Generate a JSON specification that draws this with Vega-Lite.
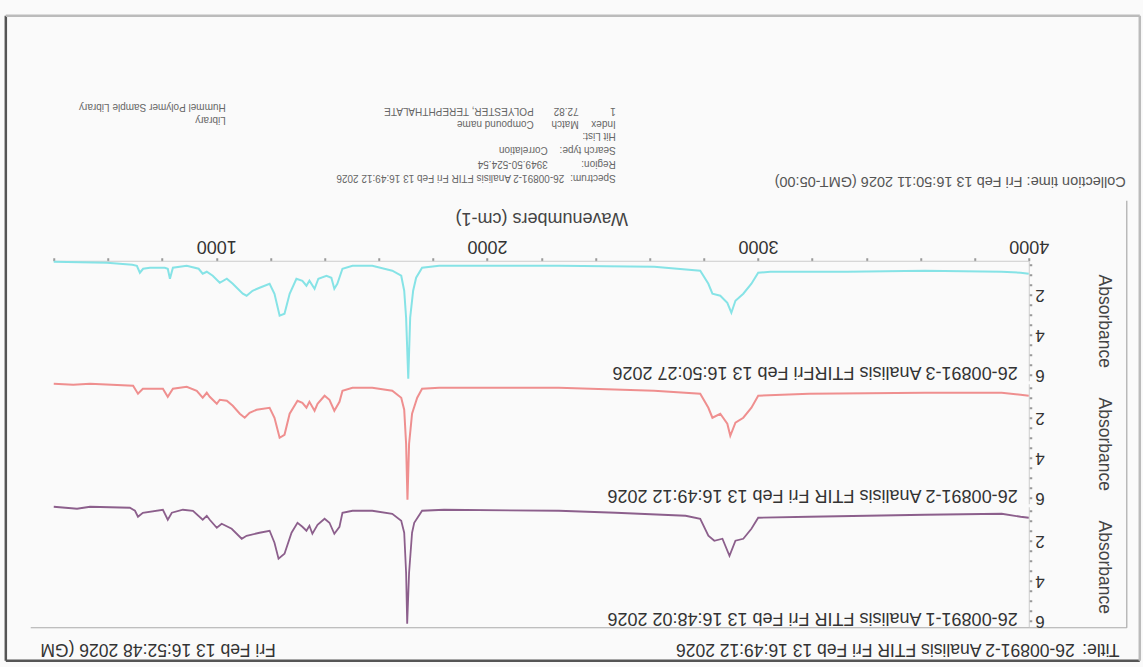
{
  "$schema": "https://vega.github.io/schema/vega-lite/v6.json",
  "background": "#fafafa",
  "autosize": {"type": "pad"},
  "padding": {"left": 3.75, "top": 13.75, "right": 2.75, "bottom": 5.75},
  "bounds": "flush",
  "spacing": 3,
  "config": {
    "view": {"stroke": null},
    "font": "Liberation Sans",
    "axis": {"grid": false, "labelFont": "Liberation Sans", "titleFont": "Liberation Sans"}
  },
  "datasets": {
    "cyan": [
      {"wn": 400, "a": 0.35}, {"wn": 597, "a": 0.4}, {"wn": 690, "a": 0.5}, {"wn": 707, "a": 0.55}, {"wn": 718, "a": 0.9},
      {"wn": 730, "a": 0.7}, {"wn": 755, "a": 0.65}, {"wn": 810, "a": 0.65}, {"wn": 821, "a": 0.7}, {"wn": 829, "a": 1.2},
      {"wn": 840, "a": 0.65}, {"wn": 891, "a": 0.55}, {"wn": 935, "a": 0.7}, {"wn": 950, "a": 0.95}, {"wn": 965, "a": 0.85},
      {"wn": 987, "a": 1.05}, {"wn": 1013, "a": 1.4}, {"wn": 1039, "a": 1.2}, {"wn": 1061, "a": 1.45}, {"wn": 1098, "a": 1.95},
      {"wn": 1112, "a": 2.05}, {"wn": 1134, "a": 1.8}, {"wn": 1160, "a": 1.65}, {"wn": 1197, "a": 1.45}, {"wn": 1215, "a": 1.95},
      {"wn": 1234, "a": 3.05}, {"wn": 1252, "a": 2.95}, {"wn": 1271, "a": 1.95}, {"wn": 1296, "a": 1.2}, {"wn": 1318, "a": 1.3},
      {"wn": 1333, "a": 1.55}, {"wn": 1344, "a": 1.3}, {"wn": 1363, "a": 1.7}, {"wn": 1377, "a": 1.2}, {"wn": 1407, "a": 1.05},
      {"wn": 1425, "a": 1.15}, {"wn": 1436, "a": 1.7}, {"wn": 1447, "a": 1.45}, {"wn": 1466, "a": 0.7}, {"wn": 1503, "a": 0.55},
      {"wn": 1576, "a": 0.55}, {"wn": 1650, "a": 0.8}, {"wn": 1683, "a": 1.05}, {"wn": 1694, "a": 1.8}, {"wn": 1701, "a": 3.15},
      {"wn": 1709, "a": 6.2}, {"wn": 1716, "a": 3.15}, {"wn": 1727, "a": 1.8}, {"wn": 1738, "a": 1.15}, {"wn": 1760, "a": 0.65},
      {"wn": 1823, "a": 0.55}, {"wn": 2265, "a": 0.55}, {"wn": 2617, "a": 0.6}, {"wn": 2787, "a": 0.8}, {"wn": 2817, "a": 1.45},
      {"wn": 2832, "a": 1.95}, {"wn": 2861, "a": 2.05}, {"wn": 2887, "a": 2.4}, {"wn": 2902, "a": 2.9}, {"wn": 2917, "a": 2.3},
      {"wn": 2946, "a": 1.95}, {"wn": 2976, "a": 1.45}, {"wn": 3001, "a": 0.9}, {"wn": 3046, "a": 0.85}, {"wn": 3329, "a": 0.85},
      {"wn": 3616, "a": 0.8}, {"wn": 3900, "a": 0.85}, {"wn": 3970, "a": 0.9}, {"wn": 4000, "a": 0.95}
    ],
    "red": [
      {"wn": 400, "a": 0.3}, {"wn": 472, "a": 0.35}, {"wn": 534, "a": 0.3}, {"wn": 693, "a": 0.4}, {"wn": 711, "a": 0.8},
      {"wn": 729, "a": 0.55}, {"wn": 803, "a": 0.55}, {"wn": 821, "a": 0.95}, {"wn": 840, "a": 0.55}, {"wn": 891, "a": 0.45},
      {"wn": 928, "a": 0.65}, {"wn": 950, "a": 1.0}, {"wn": 965, "a": 0.75}, {"wn": 976, "a": 0.95}, {"wn": 1002, "a": 1.3},
      {"wn": 1013, "a": 1.1}, {"wn": 1039, "a": 1.15}, {"wn": 1061, "a": 1.4}, {"wn": 1087, "a": 1.8}, {"wn": 1105, "a": 2.0},
      {"wn": 1123, "a": 1.75}, {"wn": 1149, "a": 1.6}, {"wn": 1197, "a": 1.5}, {"wn": 1215, "a": 2.0}, {"wn": 1234, "a": 3.0},
      {"wn": 1252, "a": 2.85}, {"wn": 1271, "a": 1.8}, {"wn": 1300, "a": 1.15}, {"wn": 1318, "a": 1.25}, {"wn": 1333, "a": 1.5},
      {"wn": 1344, "a": 1.2}, {"wn": 1363, "a": 1.65}, {"wn": 1374, "a": 1.3}, {"wn": 1400, "a": 0.9}, {"wn": 1418, "a": 1.1},
      {"wn": 1436, "a": 1.65}, {"wn": 1455, "a": 1.2}, {"wn": 1466, "a": 0.65}, {"wn": 1503, "a": 0.5}, {"wn": 1576, "a": 0.5},
      {"wn": 1650, "a": 0.65}, {"wn": 1683, "a": 1.0}, {"wn": 1694, "a": 1.6}, {"wn": 1701, "a": 3.3}, {"wn": 1706, "a": 6.1},
      {"wn": 1712, "a": 3.3}, {"wn": 1723, "a": 1.8}, {"wn": 1742, "a": 1.0}, {"wn": 1760, "a": 0.55}, {"wn": 1823, "a": 0.5},
      {"wn": 2265, "a": 0.5}, {"wn": 2617, "a": 0.65}, {"wn": 2787, "a": 0.8}, {"wn": 2817, "a": 1.5}, {"wn": 2832, "a": 2.0},
      {"wn": 2861, "a": 1.8}, {"wn": 2887, "a": 2.3}, {"wn": 2898, "a": 2.9}, {"wn": 2917, "a": 2.25}, {"wn": 2946, "a": 2.0},
      {"wn": 2976, "a": 1.5}, {"wn": 3001, "a": 0.9}, {"wn": 3189, "a": 0.8}, {"wn": 3616, "a": 0.75}, {"wn": 3900, "a": 0.75},
      {"wn": 3970, "a": 0.85}, {"wn": 4000, "a": 0.9}
    ],
    "purple": [
      {"wn": 400, "a": 0.3}, {"wn": 486, "a": 0.4}, {"wn": 534, "a": 0.3}, {"wn": 681, "a": 0.35}, {"wn": 700, "a": 0.5},
      {"wn": 711, "a": 0.8}, {"wn": 729, "a": 0.6}, {"wn": 803, "a": 0.45}, {"wn": 821, "a": 0.95}, {"wn": 836, "a": 0.6},
      {"wn": 877, "a": 0.45}, {"wn": 914, "a": 0.5}, {"wn": 950, "a": 0.95}, {"wn": 965, "a": 0.75}, {"wn": 976, "a": 0.95},
      {"wn": 1002, "a": 1.35}, {"wn": 1020, "a": 1.15}, {"wn": 1057, "a": 1.4}, {"wn": 1094, "a": 1.9}, {"wn": 1112, "a": 1.75},
      {"wn": 1160, "a": 1.6}, {"wn": 1197, "a": 1.5}, {"wn": 1215, "a": 2.1}, {"wn": 1230, "a": 2.9}, {"wn": 1252, "a": 2.65},
      {"wn": 1278, "a": 1.6}, {"wn": 1300, "a": 1.1}, {"wn": 1318, "a": 1.3}, {"wn": 1333, "a": 1.5}, {"wn": 1344, "a": 1.25},
      {"wn": 1355, "a": 1.65}, {"wn": 1374, "a": 1.2}, {"wn": 1400, "a": 0.9}, {"wn": 1418, "a": 1.1}, {"wn": 1436, "a": 1.65},
      {"wn": 1455, "a": 1.3}, {"wn": 1466, "a": 0.6}, {"wn": 1503, "a": 0.5}, {"wn": 1576, "a": 0.5}, {"wn": 1650, "a": 0.65},
      {"wn": 1683, "a": 1.0}, {"wn": 1694, "a": 1.6}, {"wn": 1701, "a": 3.6}, {"wn": 1705, "a": 6.15}, {"wn": 1712, "a": 3.6},
      {"wn": 1723, "a": 1.6}, {"wn": 1731, "a": 1.1}, {"wn": 1760, "a": 0.5}, {"wn": 1841, "a": 0.45}, {"wn": 2265, "a": 0.5},
      {"wn": 2475, "a": 0.6}, {"wn": 2733, "a": 0.75}, {"wn": 2787, "a": 0.9}, {"wn": 2817, "a": 1.75}, {"wn": 2839, "a": 2.0},
      {"wn": 2869, "a": 1.9}, {"wn": 2895, "a": 2.75}, {"wn": 2917, "a": 2.0}, {"wn": 2946, "a": 1.9}, {"wn": 2976, "a": 1.4},
      {"wn": 3001, "a": 0.85}, {"wn": 3189, "a": 0.8}, {"wn": 3616, "a": 0.7}, {"wn": 3900, "a": 0.65}, {"wn": 3970, "a": 0.8},
      {"wn": 4000, "a": 0.85}
    ],
    "infoText": [
      {"wn": 2475, "a": -3.85, "t": "Spectrum:"},
      {"wn": 2285, "a": -3.85, "t": "26-00891-2 Analisis FTIR Fri Feb 13 16:49:12 2026"},
      {"wn": 2475, "a": -4.55, "t": "Region:"},
      {"wn": 2224, "a": -4.55, "t": "3949.50-524.54"},
      {"wn": 2475, "a": -5.25, "t": "Search type:"},
      {"wn": 2224, "a": -5.25, "t": "Correlation"},
      {"wn": 2475, "a": -5.95, "t": "Hit List:"},
      {"wn": 2475, "a": -6.55, "t": "Index"},
      {"wn": 2338, "a": -6.55, "t": "Match"},
      {"wn": 2172, "a": -6.55, "t": "Compound name"},
      {"wn": 1035, "a": -6.75, "t": "Library"},
      {"wn": 2475, "a": -7.2, "t": "1"},
      {"wn": 2338, "a": -7.2, "t": "72.82"},
      {"wn": 2172, "a": -7.2, "t": "POLYESTER, TEREPHTHALATE"},
      {"wn": 1035, "a": -7.4, "t": "Hummel Polymer Sample Library"}
    ],
    "frameDark": [
      {"wn": 223, "wn2": 223, "a": -11.95, "a2": 20.3},
      {"wn": 223, "wn2": 4410, "a": 20.3, "a2": 20.3}
    ],
    "frameLight": [
      {"wn": 223, "wn2": 4410, "a": -11.95, "a2": -11.95},
      {"wn": 4410, "wn2": 4410, "a": -11.95, "a2": 20.3}
    ],
    "innerBox": [
      {"wn": 4362, "wn2": 4362, "a": -2.7, "a2": 18.65},
      {"wn": 315, "wn2": 4362, "a": 18.65, "a2": 18.65}
    ]
  },
  "vconcat": [
    {
      "width": 975,
      "height": 120,
      "encoding": {
        "x": {
          "field": "wn", "type": "quantitative",
          "scale": {"domain": [400, 4000], "nice": false, "zero": false},
          "axis": {
            "orient": "top", "title": "Wavenumbers (cm-1)",
            "values": [400, 600, 800, 1000, 1200, 1400, 1600, 1800, 2000, 2200, 2400, 2600, 2800, 3000, 3200, 3400, 3600, 3800, 4000],
            "labelExpr": "datum.value % 1000 === 0 ? '' + datum.value : ''",
            "labelAngle": 180, "labelFontSize": 18, "labelColor": "#333", "labelPadding": 3,
            "labelFlush": false, "labelOverlap": false,
            "tickSize": 3, "tickWidth": 2, "tickColor": "#999", "domainColor": "#ccc",
            "titleAngle": 180, "titleFontSize": 18, "titleFontWeight": "normal", "titleColor": "#444",
            "titlePadding": 10, "titleBaseline": "top"
          }
        },
        "y": {
          "field": "a", "type": "quantitative",
          "scale": {"domain": [0.3, 6.3], "reverse": true, "nice": false, "zero": false},
          "axis": {
            "orient": "right", "title": "Absorbance",
            "values": [0.5, 1, 1.5, 2, 2.5, 3, 3.5, 4, 4.5, 5, 5.5, 6],
            "labelExpr": "datum.value % 2 === 0 ? '' + datum.value : ''",
            "labelAngle": 180, "labelFontSize": 17, "labelColor": "#333", "labelPadding": 3,
            "labelFlush": false, "labelOverlap": false,
            "tickSize": 3, "tickWidth": 2, "tickColor": "#999", "domainColor": "#ccc",
            "titleFontSize": 17.5, "titleFontWeight": "normal", "titleColor": "#444", "titlePadding": 50
          }
        }
      },
      "layer": [
        {"data": {"name": "frameDark"}, "mark": {"type": "rule", "color": "#555", "strokeWidth": 2.5, "clip": false},
         "encoding": {"x2": {"field": "wn2"}, "y2": {"field": "a2"}}},
        {"data": {"name": "frameLight"}, "mark": {"type": "rule", "color": "#bbb", "strokeWidth": 2.5, "clip": false},
         "encoding": {"x2": {"field": "wn2"}, "y2": {"field": "a2"}}},
        {"data": {"name": "innerBox"}, "mark": {"type": "rule", "color": "#aaa", "strokeWidth": 1.2, "clip": false},
         "encoding": {"x2": {"field": "wn2"}, "y2": {"field": "a2"}}},
        {"data": {"name": "cyan"}, "mark": {"type": "line", "color": "#86e3e6", "strokeWidth": 2, "clip": false}},
        {"data": {"values": [{"wn": 3959, "a": 5.85, "t": "26-00891-3 Analisis FTIRFri Feb 13 16:50:27 2026"}]},
         "mark": {"type": "text", "angle": 180, "align": "left", "baseline": "middle", "fontSize": 18, "color": "#333", "clip": false},
         "encoding": {"text": {"field": "t"}}},
        {"data": {"values": [{"wn": 4358, "a": -3.7, "t": "Collection time: Fri Feb 13 16:50:11 2026 (GMT-05:00)"}]},
         "mark": {"type": "text", "angle": 180, "align": "left", "baseline": "middle", "fontSize": 14.5, "color": "#555", "clip": false},
         "encoding": {"text": {"field": "t"}}},
        {"data": {"name": "infoText"},
         "mark": {"type": "text", "angle": 180, "align": "left", "baseline": "middle", "fontSize": 10, "color": "#666", "clip": false},
         "encoding": {"text": {"field": "t"}}}
      ]
    },
    {
      "width": 975,
      "height": 120,
      "encoding": {
        "x": {"field": "wn", "type": "quantitative", "scale": {"domain": [400, 4000], "nice": false, "zero": false}, "axis": null},
        "y": {
          "field": "a", "type": "quantitative",
          "scale": {"domain": [0.3, 6.3], "reverse": true, "nice": false, "zero": false},
          "axis": {
            "orient": "right", "title": "Absorbance",
            "values": [0.5, 1, 1.5, 2, 2.5, 3, 3.5, 4, 4.5, 5, 5.5, 6],
            "labelExpr": "datum.value % 2 === 0 ? '' + datum.value : ''",
            "labelAngle": 180, "labelFontSize": 17, "labelColor": "#333", "labelPadding": 3,
            "labelFlush": false, "labelOverlap": false,
            "tickSize": 3, "tickWidth": 2, "tickColor": "#999", "domainColor": "#ccc",
            "titleFontSize": 17.5, "titleFontWeight": "normal", "titleColor": "#444", "titlePadding": 50
          }
        }
      },
      "layer": [
        {"data": {"name": "red"}, "mark": {"type": "line", "color": "#ef8f8f", "strokeWidth": 2, "clip": false}},
        {"data": {"values": [{"wn": 3959, "a": 5.85, "t": "26-00891-2 Analisis FTIR Fri Feb 13 16:49:12 2026"}]},
         "mark": {"type": "text", "angle": 180, "align": "left", "baseline": "middle", "fontSize": 18, "color": "#333", "clip": false},
         "encoding": {"text": {"field": "t"}}}
      ]
    },
    {
      "width": 975,
      "height": 120,
      "encoding": {
        "x": {"field": "wn", "type": "quantitative", "scale": {"domain": [400, 4000], "nice": false, "zero": false}, "axis": null},
        "y": {
          "field": "a", "type": "quantitative",
          "scale": {"domain": [0.3, 6.3], "reverse": true, "nice": false, "zero": false},
          "axis": {
            "orient": "right", "title": "Absorbance",
            "values": [0.5, 1, 1.5, 2, 2.5, 3, 3.5, 4, 4.5, 5, 5.5, 6],
            "labelExpr": "datum.value % 2 === 0 ? '' + datum.value : ''",
            "labelAngle": 180, "labelFontSize": 17, "labelColor": "#333", "labelPadding": 3,
            "labelFlush": false, "labelOverlap": false,
            "tickSize": 3, "tickWidth": 2, "tickColor": "#999", "domainColor": "#ccc",
            "titleFontSize": 17.5, "titleFontWeight": "normal", "titleColor": "#444", "titlePadding": 50
          }
        }
      },
      "layer": [
        {"data": {"name": "purple"}, "mark": {"type": "line", "color": "#8c5f8c", "strokeWidth": 1.8, "clip": false}},
        {"data": {"values": [{"wn": 3959, "a": 5.85, "t": "26-00891-1 Analisis FTIR Fri Feb 13 16:48:02 2026"}]},
         "mark": {"type": "text", "angle": 180, "align": "left", "baseline": "middle", "fontSize": 18, "color": "#333", "clip": false},
         "encoding": {"text": {"field": "t"}}},
        {"data": {"values": [
            {"wn": 4335, "a": 7.4, "t": "Title:"},
            {"wn": 4170, "a": 7.4, "t": "26-00891-2 Analisis FTIR Fri Feb 13 16:49:12 2026"},
            {"wn": 1220, "a": 7.4, "t": "Fri Feb 13 16:52:48 2026 (GM"}
          ]},
         "mark": {"type": "text", "angle": 180, "align": "left", "baseline": "middle", "fontSize": 17.5, "color": "#333", "clip": false},
         "encoding": {"text": {"field": "t"}}}
      ]
    }
  ]
}
